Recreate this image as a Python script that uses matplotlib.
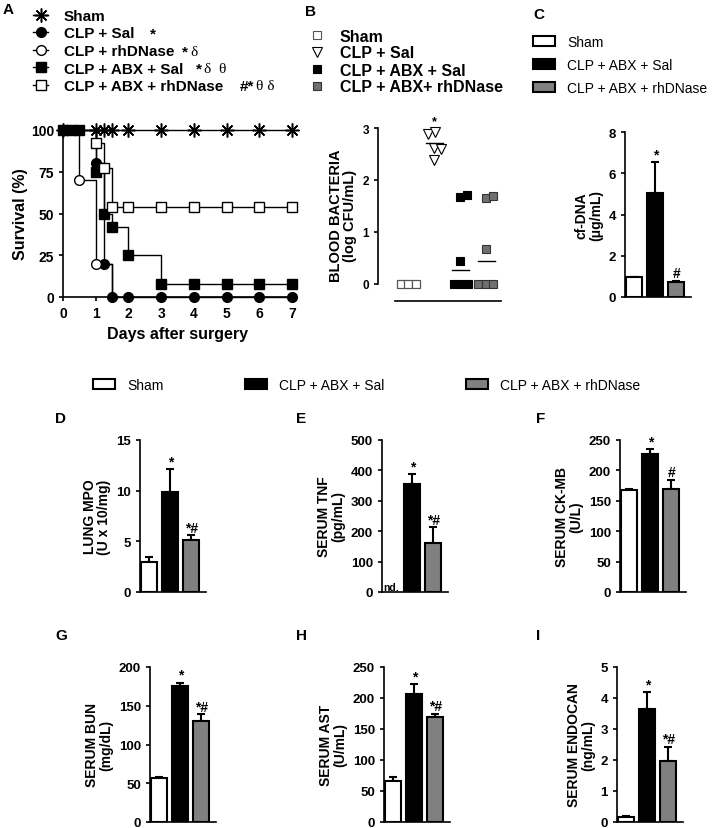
import matplotlib
matplotlib.use("Agg")
import matplotlib.pyplot as plt
from matplotlib.lines import Line2D
from matplotlib.patches import Patch

plt.rcParams['font.family'] = ['Liberation Sans', 'DejaVu Sans']
plt.rcParams['font.weight'] = 'bold'
plt.rcParams['axes.linewidth'] = 1.2
plt.rcParams['xtick.major.width'] = 1.2
plt.rcParams['ytick.major.width'] = 1.2
plt.rcParams['xtick.major.size'] = 3
plt.rcParams['ytick.major.size'] = 3

# ---- panel A: survival ----
days = [0, 1, 2, 3, 4, 5, 6, 7]
surv_ticks = [0, 25, 50, 75, 100]
sham_t, sham_s = [0, 7], [100, 100]
sham_mt = [0, 1, 1.25, 1.5, 2, 3, 4, 5, 6, 7]
sham_ms = [100, 100, 100, 100, 100, 100, 100, 100, 100, 100]
sal_t, sal_s = [0, 1, 1.25, 1.5, 7], [100, 80, 20, 0, 0]
sal_mt = [0, 0.25, 1, 1.25, 1.5, 2, 3, 4, 5, 6, 7]
sal_ms = [100, 100, 80, 20, 0, 0, 0, 0, 0, 0, 0]
dn_t, dn_s = [0, 0.5, 1, 1.5], [100, 70, 20, 0]
dn_mt, dn_ms = [0.5, 1], [70, 20]
abx_t, abx_s = [0, 1, 1.25, 1.5, 2, 3, 7], [100, 75, 50, 42, 25, 8, 8]
abx_mt = [0, 0.25, 0.5, 1, 1.25, 1.5, 2, 3, 4, 5, 6, 7]
abx_ms = [100, 100, 100, 75, 50, 42, 25, 8, 8, 8, 8, 8]
abxdn_t, abxdn_s = [0, 1, 1.25, 1.5, 7], [100, 92, 77, 54, 54]
abxdn_mt = [1, 1.25, 1.5, 2, 3, 4, 5, 6, 7]
abxdn_ms = [92, 77, 54, 54, 54, 54, 54, 54, 54]
a_labels = ['Sham', 'CLP + Sal', 'CLP + rhDNase', 'CLP + ABX + Sal', 'CLP + ABX + rhDNase']
a_marks = [('', ''), ('*', ''), ('*', 'δ'), ('*', 'δ  θ'), ('#*', 'θ δ')]

# ---- panel B: blood bacteria ----
b_labels = ['Sham', 'CLP + Sal', 'CLP + ABX + Sal', 'CLP + ABX+ rhDNase']
b_sham_x, b_sham_y = [0.71, 1.0, 1.29], [0, 0, 0]
b_sal_x = [1.75, 2.03, 1.97, 2.26, 2.0]
b_sal_y = [2.89, 2.92, 2.61, 2.59, 2.39]
b_abx_x = [2.97, 3.27, 2.97, 2.74, 3.02, 3.29]
b_abx_y = [1.68, 1.72, 0.44, 0, 0, 0]
b_dn_x = [3.99, 4.25, 3.99, 3.70, 3.99, 4.27]
b_dn_y = [1.65, 1.69, 0.68, 0, 0, 0]
b_mean_x = [2, 3, 4]
b_mean_y = [2.71, 0.26, 0.44]

# ---- bar panels ----
bar_labels = ['Sham', 'CLP + ABX + Sal', 'CLP + ABX + rhDNase']
dna_mean, dna_top = [0.95, 5.05, 0.75], [0.98, 6.55, 0.78]
mpo_mean, mpo_top = [3.0, 9.9, 5.1], [3.45, 12.1, 5.6]
tnf_mean, tnf_top = [0, 355, 160], [0, 388, 213]
ckmb_mean, ckmb_top = [167, 227, 170], [170, 235, 185]
bun_mean, bun_top = [57, 175, 130], [58, 180, 139]
ast_mean, ast_top = [66, 206, 170], [72, 222, 174]
endo_mean, endo_top = [0.15, 3.65, 1.97], [0.18, 4.2, 2.42]

W, H = 717, 829
fig = plt.figure(figsize=(W / 100, H / 100), dpi=100)


def box(x0, y0, x1, y1):
    return fig.add_axes([x0 / W, 1 - y1 / H, (x1 - x0) / W, (y1 - y0) / H])


def key(handle, label, x, y, size, weight='bold', hl=1.6, pad=0.8):
    lg = fig.legend([handle], [label], loc='center left',
                    bbox_to_anchor=(x / W, 1 - y / H), frameon=False,
                    borderpad=0, borderaxespad=0, handlelength=hl,
                    handletextpad=pad, prop={'size': size, 'weight': weight})
    return lg


def letter(s, x, y):
    fig.text(x / W, 1 - y / H, s, fontsize=11, fontweight='bold', va='top')


# panel A
ax = box(63, 131, 292, 298)
styles = [
    dict(marker=(8, 2, 0), ms=10, mfc='k', mew=1.1),
    dict(marker='o', ms=7, mfc='k', mew=1.0),
    dict(marker='o', ms=7, mfc='white', mew=1.0),
    dict(marker='s', ms=7, mfc='k', mew=1.0),
    dict(marker='s', ms=7, mfc='white', mew=1.0),
]
curves = [(sham_t, sham_s, sham_mt, sham_ms), (sal_t, sal_s, sal_mt, sal_ms),
          (dn_t, dn_s, dn_mt, dn_ms), (abx_t, abx_s, abx_mt, abx_ms),
          (abxdn_t, abxdn_s, abxdn_mt, abxdn_ms)]
for (t, s, mt, ms), st in zip(curves, styles):
    ax.step(t, s, where='post', color='k', lw=1.0, clip_on=False)
    ax.plot(mt, ms, ls='none', color='k', clip_on=False, zorder=3, **st)
ax.set_xlim(0, 7)
ax.set_ylim(0, 100)
ax.set_xticks(days)
ax.set_yticks(surv_ticks)
ax.tick_params(labelsize=10)
ax.spines[['top', 'right']].set_visible(False)
ax.set_xlabel('Days after surgery', fontsize=11.5, fontweight='bold')
ax.set_ylabel('Survival (%)', fontsize=11.5, fontweight='bold', labelpad=2)
letter('A', 3, 3)
for i, (lab, st) in enumerate(zip(a_labels, styles)):
    h = Line2D([], [], color='k', lw=1.0, **st)
    key(h, lab, 33, 17 + 17.5 * i, 11, hl=1.0, pad=1.0)
a_mark_x = [0, 150, 182, 196, 240]
for i, (m, g) in enumerate(a_marks):
    if m:
        fig.text(a_mark_x[i] / W, 1 - (17 + 17.5 * i) / H, m, fontsize=11,
                 fontweight='bold', va='center')
        fig.text((a_mark_x[i] + 8 * len(m)) / W, 1 - (17 + 17.5 * i) / H, g,
                 fontsize=11, fontweight='normal', va='center',
                 family=['Liberation Serif', 'DejaVu Serif'])

# panel B
ax = box(378, 129, 505, 302)
ax.plot(b_sham_x, b_sham_y, 's', ms=5.5, mfc='white', mec='#555555', mew=0.9, clip_on=False)
ax.plot(b_sal_x, b_sal_y, 'v', ms=6.5, mfc='white', mec='k', mew=0.8, clip_on=False)
ax.plot(b_abx_x, b_abx_y, 's', ms=5.5, mfc='k', mec='k', mew=0.8, clip_on=False)
ax.plot(b_dn_x, b_dn_y, 's', ms=5.5, mfc='#707070', mec='#333333', mew=0.8, clip_on=False)
for x, m in zip(b_mean_x, b_mean_y):
    ax.plot([x - 0.33, x + 0.33], [m, m], color='k', lw=1.0)
ax.text(2.0, 3.02, '*', ha='center', va='bottom', fontsize=9, fontweight='bold')
ax.set_xlim(-0.165, 4.72)
ax.set_ylim(-0.327, 3)
ax.set_yticks([0, 1, 2, 3])
ax.set_xticks([])
ax.spines[['top', 'right']].set_visible(False)
ax.spines['left'].set_bounds(0, 3)
ax.spines['bottom'].set_bounds(0.5, 4.55)
ax.tick_params(labelsize=8.5)
ax.set_ylabel('BLOOD BACTERIA\n(log CFU/mL)', fontsize=10.5, fontweight='bold',
              linespacing=1.0)
letter('B', 305, 5)
b_hand = [dict(marker='s', mfc='white', mec='#555555', ms=6),
          dict(marker='v', mfc='white', mec='k', ms=7),
          dict(marker='s', mfc='k', mec='k', ms=6),
          dict(marker='s', mfc='#707070', mec='#333333', ms=6)]
b_rows = [37, 54, 71, 88]
for lab, st, y in zip(b_labels, b_hand, b_rows):
    h = Line2D([], [], ls='none', mew=0.8, **st)
    key(h, lab, 311, y, 11.5, hl=0.75, pad=1.05)

# bar panels
bar_colors = ['white', 'black', '#808080']


def bar_panel(x0, top, bottom, mean, upper, ymax, step, ylabel, marks, nd=False):
    ax = box(x0, top, x0 + 66, bottom)
    xs = [0, 1, 2]
    for i in xs:
        if nd and i == 0:
            ax.text(i, 0, 'nd.', ha='center', va='bottom', fontsize=7.5,
                    fontweight='bold')
            continue
        ax.bar(i, mean[i], width=0.76, color=bar_colors[i], edgecolor='k',
               linewidth=1.5, zorder=2)
        ax.errorbar(i, mean[i], yerr=[[0], [upper[i] - mean[i]]], fmt='none',
                    ecolor='k', elinewidth=1.5, capsize=3, capthick=1.5, zorder=1)
        if marks[i]:
            ax.annotate(marks[i], (i, upper[i]), xytext=(0, 0.5),
                        textcoords='offset points', ha='center', va='bottom',
                        fontsize=10, fontweight='bold')
    ax.set_xlim(-0.45, 2.7)
    ax.set_ylim(0, ymax)
    ax.set_yticks([step * k for k in range(int(round(ymax / step)) + 1)])
    ax.set_xticks([])
    ax.spines[['top', 'right']].set_visible(False)
    ax.tick_params(labelsize=9.5)
    ax.set_ylabel(ylabel, fontsize=10, fontweight='bold', linespacing=1.0)
    return ax


bar_panel(625, 133, 298, dna_mean, dna_top, 8, 2, 'cf-DNA\n(μg/mL)', ['', '*', '#'])
bar_panel(140, 441, 593, mpo_mean, mpo_top, 15, 5, 'LUNG MPO\n(U x 10/mg)', ['', '*', '*#'])
bar_panel(382, 441, 593, tnf_mean, tnf_top, 500, 100, 'SERUM TNF\n(pg/mL)', ['', '*', '*#'], nd=True)
bar_panel(620, 441, 593, ckmb_mean, ckmb_top, 250, 50, 'SERUM CK-MB\n(U/L)', ['', '*', '#'])
bar_panel(150, 668, 823, bun_mean, bun_top, 200, 50, 'SERUM BUN\n(mg/dL)', ['', '*', '*#'])
bar_panel(384, 668, 823, ast_mean, ast_top, 250, 50, 'SERUM AST\n(U/mL)', ['', '*', '*#'])
bar_panel(617, 668, 823, endo_mean, endo_top, 5, 1, 'SERUM ENDOCAN\n(ng/mL)', ['', '*', '*#'])

letter('C', 533, 8)
for lab, c, y in zip(bar_labels, bar_colors, [43, 66, 89]):
    h = Patch(facecolor=c, edgecolor='k', linewidth=1.5)
    key(h, lab, 533, y, 10, weight='normal', hl=1.6, pad=0.85)

for lab, c, x in zip(bar_labels, bar_colors, [93, 245, 466]):
    h = Patch(facecolor=c, edgecolor='k', linewidth=1.5)
    key(h, lab, x, 386, 10, weight='normal', hl=1.55, pad=0.9)

for s, x, y in [('D', 55, 412), ('E', 296, 412), ('F', 536, 412),
                ('G', 55, 629), ('H', 296, 629), ('I', 536, 629)]:
    letter(s, x, y)

fig.savefig('out.png', dpi=100)
